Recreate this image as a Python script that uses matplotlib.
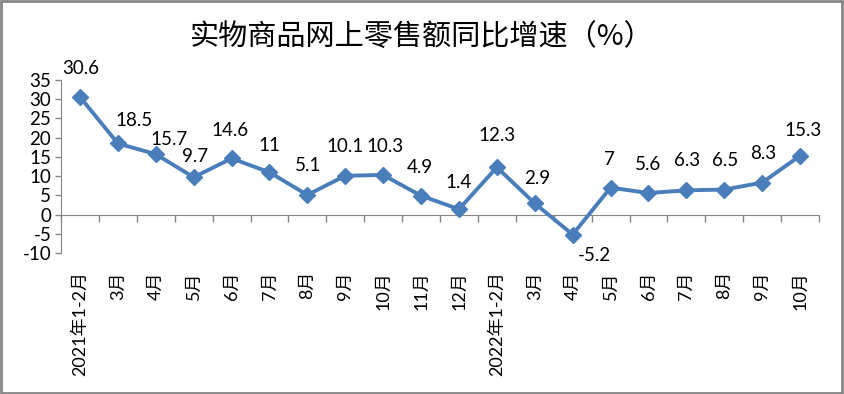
import matplotlib
matplotlib.use("Agg")
import matplotlib.pyplot as plt
from matplotlib.patches import Rectangle
import numpy as np

plt.rcParams['font.family'] = ['Lato', 'Noto Sans CJK SC', 'DejaVu Sans']

# 数据
months = ['2021年1-2月', '3月', '4月', '5月', '6月', '7月', '8月', '9月', '10月', '11月', '12月',
          '2022年1-2月', '3月', '4月', '5月', '6月', '7月', '8月', '9月', '10月']
growth = [30.6, 18.5, 15.7, 9.7, 14.6, 11, 5.1, 10.1, 10.3, 4.9, 1.4,
          12.3, 2.9, -5.2, 7, 5.6, 6.3, 6.5, 8.3, 15.3]
yticks = [-10, -5, 0, 5, 10, 15, 20, 25, 30, 35]

# 数据标签偏移(像素)
label_dx = [1, 16, 13, 1, -2, 0, 1, 0, 2, -1, 0, 0, 2, 22, -1, 0, 1, 1, 1, 3]
label_dy = [28, 23, 15, 21, 28, 27, 29, 29, 28, 28, 27, 32, 25, -21, 28, 29, 30, 29, 29, 25]

fig = plt.figure(figsize=(8.44, 3.94), dpi=100)
ax = fig.add_axes([61 / 844, 1 - 253 / 394, 758 / 844, 173 / 394])

x = np.arange(len(growth))
color = '#4A7EBB'
ax.plot(x, growth, color=color, lw=2.8, marker='D', markersize=8,
        markerfacecolor=color, markeredgecolor=color, zorder=3)

for xi, v, dx, dy in zip(x, growth, label_dx, label_dy):
    ax.annotate(f'{v:g}', (xi, v), xytext=(dx * 0.72, dy * 0.72), textcoords='offset points',
                ha='center', va='center', fontsize=13.5, color='black')

ax.set_xlim(-0.5, len(growth) - 0.5)
ax.set_ylim(-10, 35)
ax.set_yticks(yticks)
ax.set_yticklabels([str(t) for t in yticks], fontsize=13.5)

# 类别标签放在底部
ax.set_xticks(x)
ax.set_xticklabels(months, rotation=90, fontsize=13)
ax.tick_params(axis='x', length=0, pad=13)
ax.tick_params(axis='y', length=4, width=1, color='#868686', pad=3)

for side in ['top', 'right', 'bottom']:
    ax.spines[side].set_visible(False)
ax.spines['left'].set_color('#868686')

# 零轴及分类间隔刻度
zero_pos = (0 - (-10)) / 45
sec = ax.secondary_xaxis(zero_pos)
sec.set_xticks(np.arange(-0.5, len(growth), 1.0))
sec.set_xticklabels([])
sec.tick_params(axis='x', direction='out', length=5, width=1, color='#868686')
sec.spines['bottom'].set_color('#868686')
sec.xaxis.set_ticks_position('bottom')
sec.spines['bottom'].set_visible(True)
sec.spines['top'].set_visible(False)

fig.text(0.5, 1 - 38 / 394, '实物商品网上零售额同比增速（%）', ha='center', va='center',
         fontsize=21, family=['Noto Sans CJK SC', 'DejaVu Sans'])

fig.patches.append(Rectangle((0.001, 0.002), 0.997, 0.995, transform=fig.transFigure,
                             fill=False, edgecolor='#868686', lw=2))

fig.savefig('out.png', dpi=100)
